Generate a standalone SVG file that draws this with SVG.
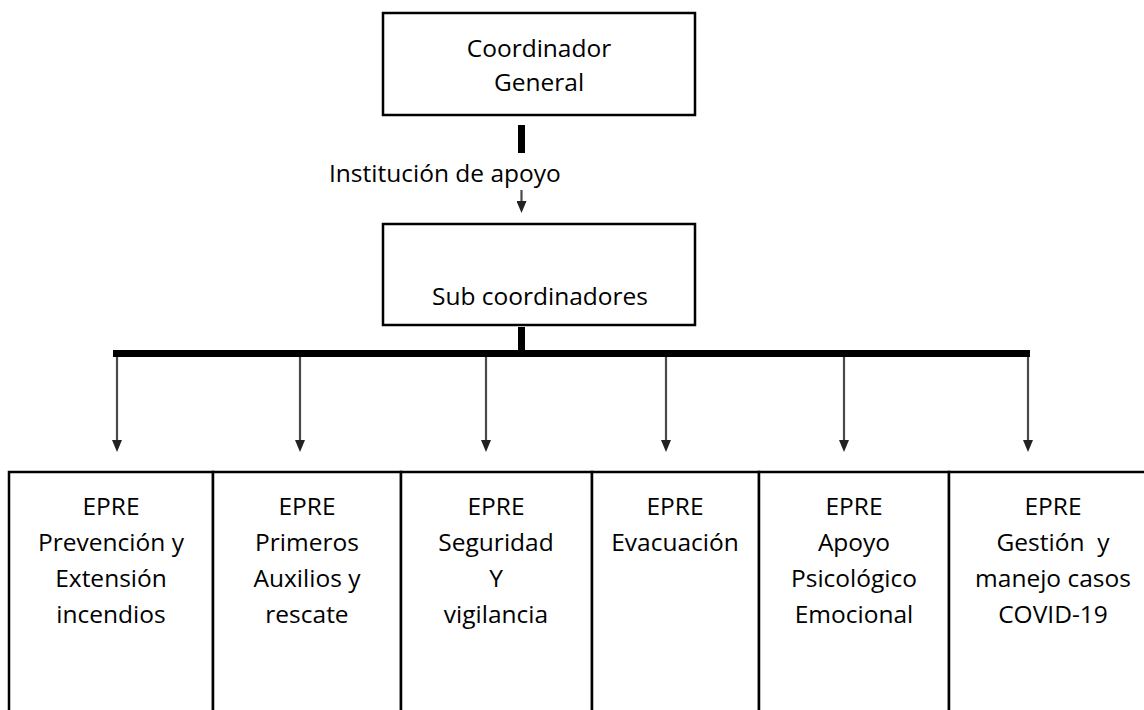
<svg xmlns="http://www.w3.org/2000/svg" width="1144" height="710" viewBox="0 0 1144 710">
<style>
  .box { fill: #fff; stroke: #000; stroke-width: 2.5; }
  .t { font-family: "Open Sans", "Noto Sans", sans-serif; font-size: 24.5px; fill: #000; text-anchor: middle; }
  .arr { stroke: #4a4a4a; stroke-width: 2.2; fill: none; }
</style>
<defs>
  <marker id="ah" markerWidth="12" markerHeight="10" refX="1" refY="5" orient="auto" markerUnits="userSpaceOnUse" viewBox="0 0 12 10">
    <path d="M0,0 L12,5 L0,10 Z" fill="#222"/>
  </marker>
</defs>
<rect width="1144" height="710" fill="#fff"/>

<g id="coordinador">
  <rect class="box" x="383" y="13" width="312" height="102"/>
  <text class="t" x="539" y="57">Coordinador</text>
  <text class="t" x="539" y="91">General</text>
</g>

<g id="institucion">
  <text class="t" x="329" y="182" style="text-anchor:start">Institución de apoyo</text>
</g>

<g id="subcoordinadores">
  <rect class="box" x="383" y="224" width="312" height="101"/>
  <text class="t" x="540" y="305">Sub coordinadores</text>
</g>

<g id="connectors">
  <rect x="518" y="125" width="7" height="28" fill="#000"/>
  <line class="arr" x1="521.5" y1="190" x2="521.5" y2="202" marker-end="url(#ah)"/>
  <rect x="518" y="327" width="7" height="26" fill="#000"/>
  <rect x="113" y="350" width="917" height="7" fill="#000"/>
  <line class="arr" x1="117" y1="357" x2="117" y2="441" marker-end="url(#ah)"/>
  <line class="arr" x1="300" y1="357" x2="300" y2="441" marker-end="url(#ah)"/>
  <line class="arr" x1="486" y1="357" x2="486" y2="441" marker-end="url(#ah)"/>
  <line class="arr" x1="666" y1="357" x2="666" y2="441" marker-end="url(#ah)"/>
  <line class="arr" x1="844" y1="357" x2="844" y2="441" marker-end="url(#ah)"/>
  <line class="arr" x1="1028" y1="357" x2="1028" y2="441" marker-end="url(#ah)"/>
</g>

<g id="epre-prevencion">
  <rect class="box" x="9" y="472" width="204" height="260"/>
  <text class="t" x="111" y="515">EPRE</text>
  <text class="t" x="111" y="551">Prevención y</text>
  <text class="t" x="111" y="587">Extensión</text>
  <text class="t" x="111" y="623">incendios</text>
</g>

<g id="epre-primeros">
  <rect class="box" x="213" y="472" width="188" height="260"/>
  <text class="t" x="307" y="515">EPRE</text>
  <text class="t" x="307" y="551">Primeros</text>
  <text class="t" x="307" y="587">Auxilios y</text>
  <text class="t" x="307" y="623">rescate</text>
</g>

<g id="epre-seguridad">
  <rect class="box" x="401" y="472" width="191" height="260"/>
  <text class="t" x="496" y="515">EPRE</text>
  <text class="t" x="496" y="551">Seguridad</text>
  <text class="t" x="496" y="587">Y</text>
  <text class="t" x="496" y="623">vigilancia</text>
</g>

<g id="epre-evacuacion">
  <rect class="box" x="592" y="472" width="167" height="260"/>
  <text class="t" x="675" y="515">EPRE</text>
  <text class="t" x="675" y="551">Evacuación</text>
</g>

<g id="epre-apoyo">
  <rect class="box" x="759" y="472" width="190" height="260"/>
  <text class="t" x="854" y="515">EPRE</text>
  <text class="t" x="854" y="551">Apoyo</text>
  <text class="t" x="854" y="587">Psicológico</text>
  <text class="t" x="854" y="623">Emocional</text>
</g>

<g id="epre-gestion">
  <rect class="box" x="949" y="472" width="230" height="260"/>
  <text class="t" x="1053" y="515">EPRE</text>
  <text class="t" x="1053" y="551" xml:space="preserve">Gestión  y</text>
  <text class="t" x="1053" y="587">manejo casos</text>
  <text class="t" x="1053" y="623">COVID-19</text>
</g>
</svg>
